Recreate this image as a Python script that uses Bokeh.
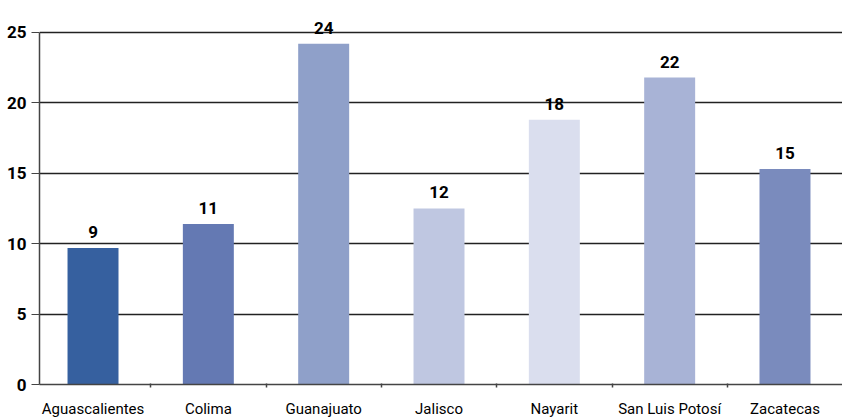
from bokeh.plotting import figure
from bokeh.models import ColumnDataSource, FixedTicker, Range1d, LinearAxis, Grid
from bokeh.core.properties import value
from bokeh.embed import file_html
from bokeh.resources import INLINE

states = ["Aguascalientes", "Colima", "Guanajuato", "Jalisco", "Nayarit", "San Luis Potosí", "Zacatecas"]
values = [9.7, 11.4, 24.2, 12.5, 18.8, 21.8, 15.3]
labels = ["9", "11", "24", "12", "18", "22", "15"]
colors = ["#36609f", "#6479b3", "#8fa0c9", "#bfc7e1", "#dadeee", "#a8b3d6", "#7a8bbd"]
y_ticks = [0, 5, 10, 15, 20, 25]

FONT = "Roboto"

xs = list(range(len(states)))
src = ColumnDataSource(dict(x=xs, top=values, label=labels, color=colors))

p = figure(width=842, height=420, output_backend="svg", toolbar_location=None,
           x_range=Range1d(-0.464, 6.4986), y_range=Range1d(0, 27.27),
           x_axis_type=None, y_axis_type=None,
           min_border_left=39, min_border_right=0, min_border_top=0, min_border_bottom=0)
p.outline_line_color = None
p.background_fill_color = "white"
p.border_fill_color = "white"

# y axis
ya = LinearAxis(ticker=FixedTicker(ticks=y_ticks, minor_ticks=[]), bounds=(0, 25))
ya.axis_line_color = "#444444"
ya.axis_line_width = 1.5
ya.major_tick_line_color = "#444444"
ya.major_tick_out = 8
ya.major_tick_in = 0
ya.minor_tick_line_color = None
ya.major_label_standoff = 5
ya.major_label_text_font = FONT
ya.major_label_text_font_style = "bold"
ya.major_label_text_font_size = "17px"
ya.major_label_text_color = "black"
p.add_layout(ya, "left")

# x axis
boundaries = [i + 0.5 for i in xs[:-1]]
xa = LinearAxis(ticker=FixedTicker(ticks=xs, minor_ticks=boundaries))
xa.major_label_overrides = {i: s for i, s in zip(xs, states)}
xa.axis_line_color = "#444444"
xa.axis_line_width = 1.5
xa.major_tick_line_color = None
xa.major_tick_out = 0
xa.major_tick_in = 0
xa.minor_tick_line_color = "#444444"
xa.minor_tick_line_width = 1.5
xa.minor_tick_out = 3
xa.minor_tick_in = 1
xa.major_label_standoff = 12
xa.major_label_text_font = FONT
xa.major_label_text_font_size = "15px"
xa.major_label_text_color = "black"
p.add_layout(xa, "below")

grid = Grid(dimension=1, ticker=FixedTicker(ticks=y_ticks[1:], minor_ticks=[]))
grid.grid_line_color = "#222222"
grid.grid_line_width = 1.3
p.add_layout(grid)

p.vbar(x="x", top="top", width=0.442, bottom=0, color="color", line_color=None, source=src)
p.text(x="x", y="top", text="label", source=src, text_align="center", text_baseline="alphabetic",
       y_offset=-16, text_font=value(FONT), text_font_style="bold", text_font_size="17px",
       text_color="black")

open("out.html", "w").write(file_html(p, INLINE))
